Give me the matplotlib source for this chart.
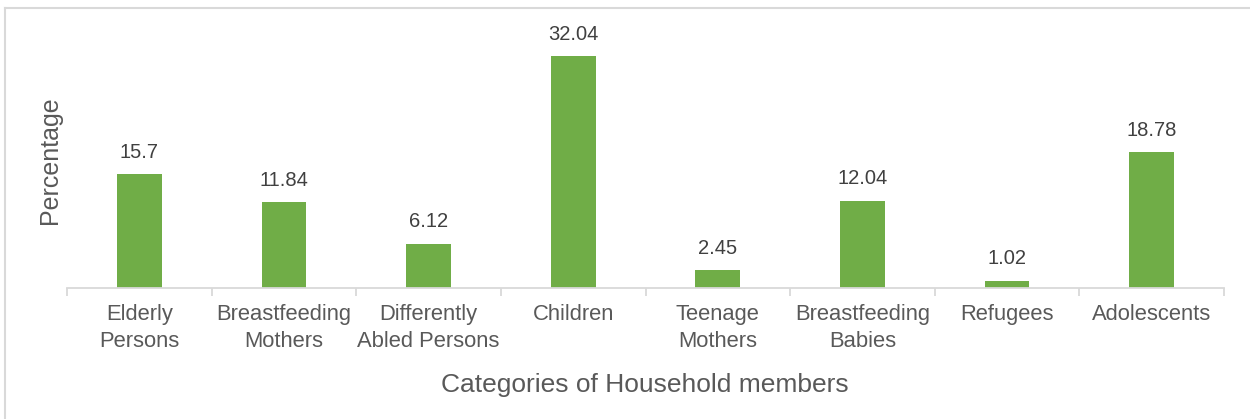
import matplotlib
matplotlib.use("Agg")
import matplotlib.pyplot as plt
from matplotlib.lines import Line2D
import numpy as np

categories = ["Elderly\nPersons", "Breastfeeding\nMothers", "Differently\nAbled Persons",
              "Children", "Teenage\nMothers", "Breastfeeding\nBabies", "Refugees", "Adolescents"]
values = [15.7, 11.84, 6.12, 32.04, 2.45, 12.04, 1.02, 18.78]
value_labels = ["15.7", "11.84", "6.12", "32.04", "2.45", "12.04", "1.02", "18.78"]

W, H = 1250, 419
plt.rcParams['font.family'] = ['Liberation Sans', 'DejaVu Sans']
fig = plt.figure(figsize=(W / 100, H / 100), dpi=100)

# chart frame (top and left edges visible)
frame_col = "#D9D9D9"
fig.add_artist(Line2D([5 / W, 1.0], [1 - 8 / H, 1 - 8 / H], color=frame_col, lw=1.5,
                      transform=fig.transFigure))
fig.add_artist(Line2D([5 / W, 5 / W], [0, 1 - 8 / H], color=frame_col, lw=1.5,
                      transform=fig.transFigure))

ax_left, ax_right = 67 / W, 1224 / W
ax_bottom = (H - 288) / H
ax_top = (H - 34.6) / H
ax = fig.add_axes([ax_left, ax_bottom, ax_right - ax_left, ax_top - ax_bottom])

x = np.arange(len(categories))
bars = ax.bar(x, values, width=0.31, color="#70AD47", zorder=2)

for xi, v, lab in zip(x, values, value_labels):
    ax.annotate(lab, (xi, v), xytext=(0, 22), textcoords="offset pixels",
                ha="center", va="center", fontsize=14.5, color="#404040")

ax.set_xlim(-0.5, len(categories) - 0.5)
ax.set_ylim(0, 35)

for s in ["top", "right", "left"]:
    ax.spines[s].set_visible(False)
ax.spines["bottom"].set_color(frame_col)
ax.spines["bottom"].set_linewidth(1.3)

ax.set_yticks([])
ax.set_xticks(x)
ax.set_xticklabels(categories, fontsize=15.8, color="#595959", linespacing=1.35)
ax.tick_params(axis="x", which="major", length=0, pad=11.5)
ax.set_xticks(np.arange(len(categories) + 1) - 0.5, minor=True)
ax.tick_params(axis="x", which="minor", length=6, color=frame_col, width=1.3)

fig.text(645 / W, 1 - 385 / H, "Categories of Household members", ha="center", va="center",
         fontsize=19, color="#595959")
fig.text(50 / W, 1 - 160 / H, "Percentage", ha="center", va="center", rotation=90,
         fontsize=18, color="#595959")

fig.savefig("out.png", dpi=100)
